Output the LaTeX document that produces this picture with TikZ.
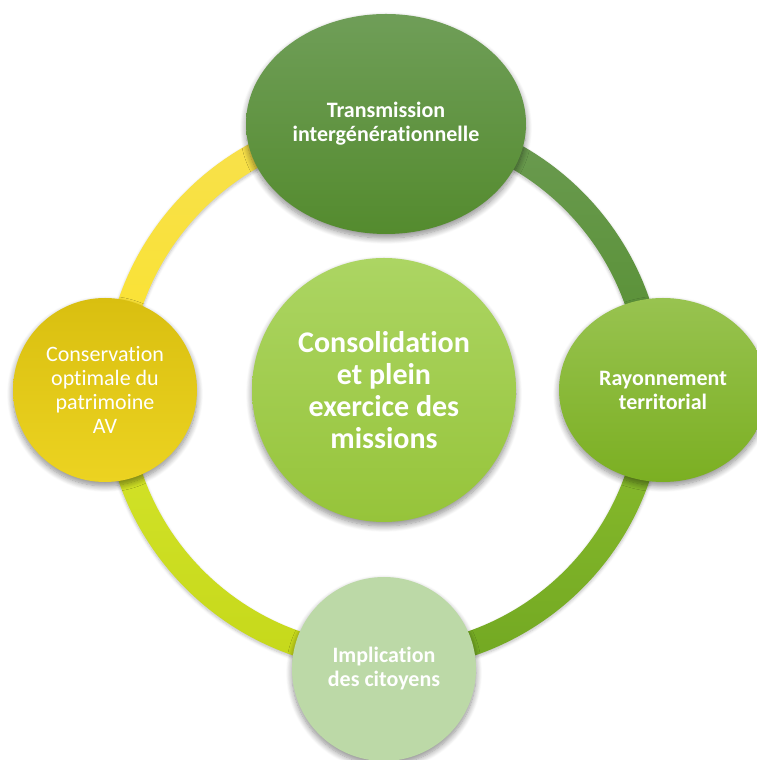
\documentclass[tikz,border=0pt]{standalone}
\usepackage{fontspec}
\setmainfont{Carlito}[Ligatures={NoCommon}]
\usetikzlibrary{shapes.geometric,shadows.blur}
\definecolor{ringTLa}{HTML}{F7E04E}
\definecolor{ringTLb}{HTML}{FBE32D}
\definecolor{ringTRa}{HTML}{6C9B53}
\definecolor{ringTRb}{HTML}{558F2F}
\definecolor{ringBRa}{HTML}{8CBE2E}
\definecolor{ringBRb}{HTML}{72A822}
\definecolor{ringBLa}{HTML}{D6E52C}
\definecolor{ringBLb}{HTML}{C5D81A}
\definecolor{topA}{HTML}{6F9E58}
\definecolor{topB}{HTML}{548B2E}
\definecolor{cenA}{HTML}{ACD563}
\definecolor{cenB}{HTML}{96C43A}
\definecolor{leftA}{HTML}{D9BF10}
\definecolor{leftM}{HTML}{FBE334}
\definecolor{leftB}{HTML}{ECD321}
\definecolor{rightA}{HTML}{98C350}
\definecolor{rightB}{HTML}{7BAF22}
\definecolor{botC}{HTML}{BCD9A7}
\begin{document}
\begin{tikzpicture}[x=1pt,y=1pt,
  bub/.style={ellipse, inner sep=0pt, align=center, text=white,
    blur shadow={shadow xshift=0pt, shadow yshift=-4pt, shadow blur radius=6pt, shadow blur steps=10, shadow opacity=45}},
  lbl/.style={font=\fontsize{22}{24}\selectfont\bfseries},
  lblr/.style={font=\fontsize{22}{24}\selectfont},
  ringseg/.style={blur shadow={shadow xshift=0pt, shadow yshift=-2pt, shadow blur radius=3pt, shadow blur steps=6, shadow opacity=25}}
]
\useasboundingbox (0,0) rectangle (757,760);
\coordinate (o) at (384,370);
\begin{scope}[shift={(o)}]
  \shade[ringseg, top color=ringTLa, bottom color=ringTLb]
    (90:280.5) arc[start angle=90, end angle=180, radius=280.5]
    -- (180:255.5) arc[start angle=180, end angle=90, radius=255.5] -- cycle;
  \shade[ringseg, top color=ringTRa, bottom color=ringTRb]
    (0:280.5) arc[start angle=0, end angle=90, radius=280.5]
    -- (90:255.5) arc[start angle=90, end angle=0, radius=255.5] -- cycle;
  \shade[ringseg, top color=ringBRa, bottom color=ringBRb]
    (270:280.5) arc[start angle=270, end angle=360, radius=280.5]
    -- (0:255.5) arc[start angle=360, end angle=270, radius=255.5] -- cycle;
  \shade[ringseg, top color=ringBLa, bottom color=ringBLb]
    (180:280.5) arc[start angle=180, end angle=270, radius=280.5]
    -- (270:255.5) arc[start angle=270, end angle=180, radius=255.5] -- cycle;
\end{scope}

\node[bub, lbl, minimum width=280, minimum height=220, top color=topA, bottom color=topB]
  (trans) at (386,636) {Transmission\\intergénérationnelle};
\node[bub, lblr, minimum width=184, minimum height=184, top color=leftA, middle color=leftM, bottom color=leftB]
  (cons) at (105,370) {Conservation\\optimale du\\patrimoine\\AV};
\node[bub, lbl, minimum width=208, minimum height=184, top color=rightA, bottom color=rightB]
  (rayo) at (663,370) {Rayonnement\\territorial};
\node[bub, lbl, minimum width=184, minimum height=184, fill=botC]
  (impl) at (384,91) {Implication\\des citoyens};
\node[bub, minimum width=264, minimum height=264, top color=cenA, bottom color=cenB,
  font=\fontsize{30}{32}\selectfont\bfseries]
  (cen) at (384,370) {Consolidation\\et plein\\exercice des\\missions};
\end{tikzpicture}
\end{document}
